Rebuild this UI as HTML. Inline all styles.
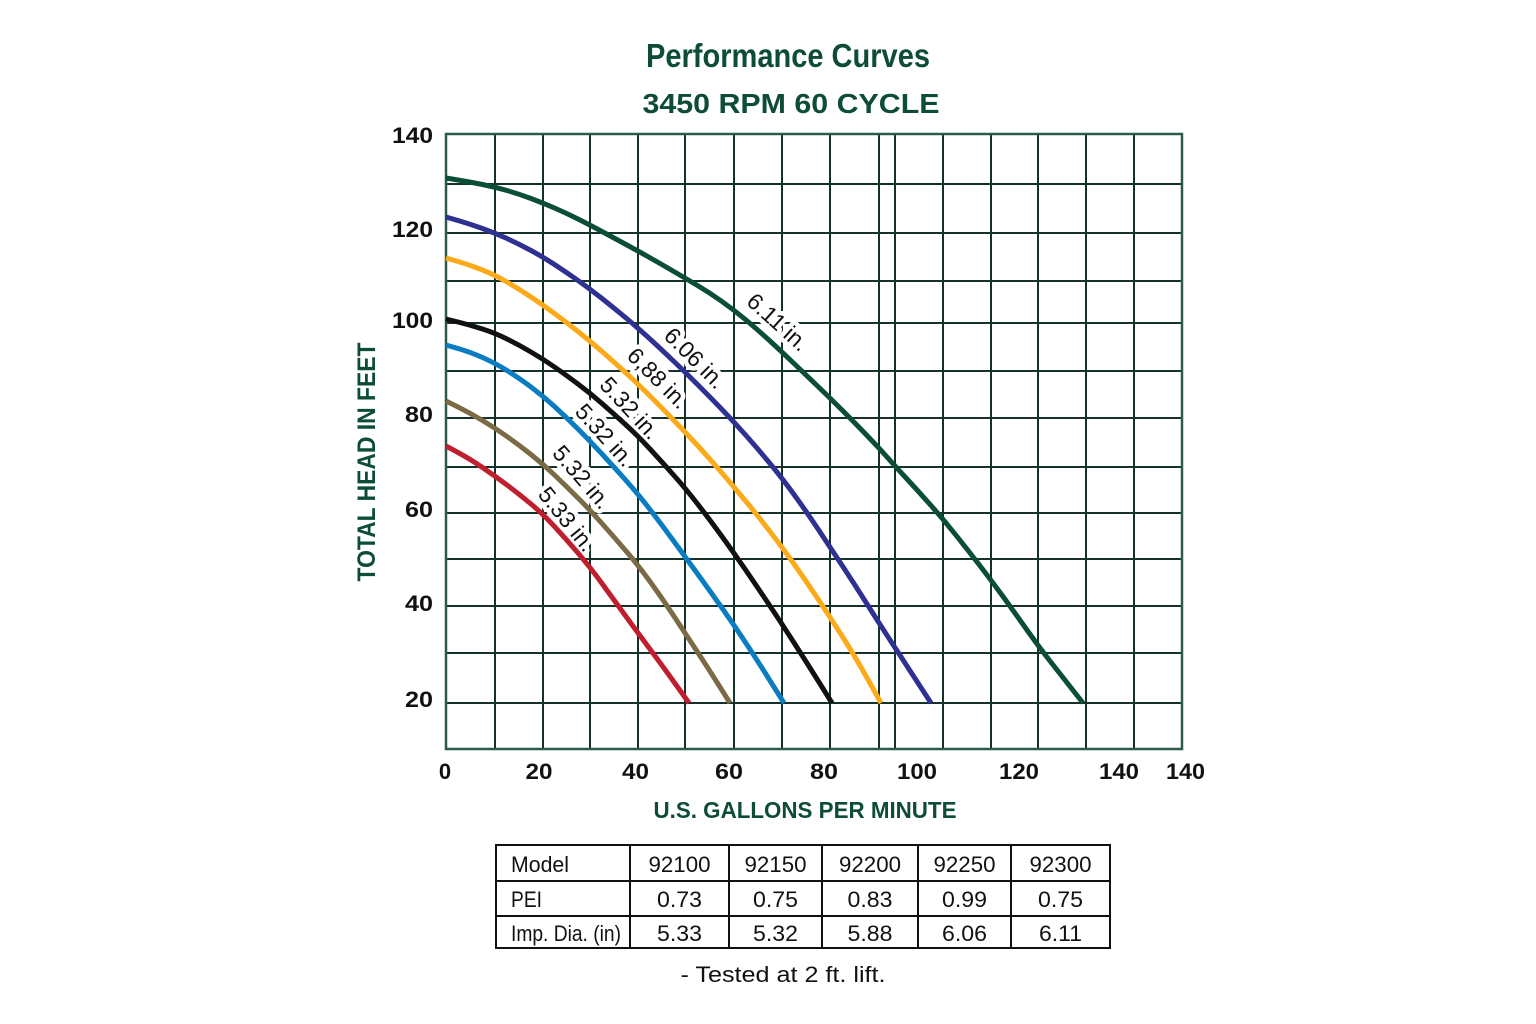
<!DOCTYPE html>
<html>
<head>
<meta charset="utf-8">
<style>
html,body{margin:0;padding:0;background:#fff;}
svg{display:block;}
</style>
</head>
<body>
<svg width="1536" height="1024" viewBox="0 0 1536 1024" xmlns="http://www.w3.org/2000/svg">
<rect width="1536" height="1024" fill="#fff"/>

<!-- Titles -->
<text x="788" y="67" text-anchor="middle" font-family="Liberation Sans, sans-serif" font-weight="bold" font-size="33" fill="#0d4d35" textLength="284" lengthAdjust="spacingAndGlyphs">Performance Curves</text>
<text x="791" y="113" text-anchor="middle" font-family="Liberation Sans, sans-serif" font-weight="bold" font-size="28" fill="#0d4d35" textLength="297" lengthAdjust="spacingAndGlyphs">3450 RPM 60 CYCLE</text>

<!-- Grid -->
<g stroke="#16302a" stroke-width="2" fill="none">
  <line x1="495" y1="134" x2="495" y2="749"/>
  <line x1="543" y1="134" x2="543" y2="749"/>
  <line x1="590" y1="134" x2="590" y2="749"/>
  <line x1="638" y1="134" x2="638" y2="749"/>
  <line x1="685" y1="134" x2="685" y2="749"/>
  <line x1="734" y1="134" x2="734" y2="749"/>
  <line x1="782" y1="134" x2="782" y2="749"/>
  <line x1="830" y1="134" x2="830" y2="749"/>
  <line x1="879" y1="134" x2="879" y2="749"/>
  <line x1="895" y1="134" x2="895" y2="749"/>
  <line x1="943" y1="134" x2="943" y2="749"/>
  <line x1="991" y1="134" x2="991" y2="749"/>
  <line x1="1038" y1="134" x2="1038" y2="749"/>
  <line x1="1086" y1="134" x2="1086" y2="749"/>
  <line x1="1134" y1="134" x2="1134" y2="749"/>

  <line x1="446" y1="184" x2="1182" y2="184"/>
  <line x1="446" y1="233" x2="1182" y2="233"/>
  <line x1="446" y1="281" x2="1182" y2="281"/>
  <line x1="446" y1="323" x2="1182" y2="323"/>
  <line x1="446" y1="371" x2="1182" y2="371"/>
  <line x1="446" y1="418" x2="1182" y2="418"/>
  <line x1="446" y1="467" x2="1182" y2="467"/>
  <line x1="446" y1="513" x2="1182" y2="513"/>
  <line x1="446" y1="559" x2="1182" y2="559"/>
  <line x1="446" y1="606" x2="1182" y2="606"/>
  <line x1="446" y1="653" x2="1182" y2="653"/>
  <line x1="446" y1="703" x2="1182" y2="703"/>
</g>
<rect x="446" y="134" width="736" height="615" fill="none" stroke="#2c5a4a" stroke-width="2.5"/>

<!-- Y tick labels -->
<g font-family="Liberation Sans, sans-serif" font-weight="bold" font-size="22" fill="#111" text-anchor="end">
  <text x="433" y="143" textLength="41" lengthAdjust="spacingAndGlyphs">140</text>
  <text x="433" y="237" textLength="41" lengthAdjust="spacingAndGlyphs">120</text>
  <text x="433" y="328" textLength="41" lengthAdjust="spacingAndGlyphs">100</text>
  <text x="433" y="422" textLength="28" lengthAdjust="spacingAndGlyphs">80</text>
  <text x="433" y="517" textLength="28" lengthAdjust="spacingAndGlyphs">60</text>
  <text x="433" y="611" textLength="28" lengthAdjust="spacingAndGlyphs">40</text>
  <text x="433" y="707" textLength="28" lengthAdjust="spacingAndGlyphs">20</text>
</g>

<!-- X tick labels -->
<g font-family="Liberation Sans, sans-serif" font-weight="bold" font-size="22" fill="#111" text-anchor="middle">
  <text x="445" y="779">0</text>
  <text x="539" y="779" textLength="27" lengthAdjust="spacingAndGlyphs">20</text>
  <text x="635.5" y="779" textLength="27" lengthAdjust="spacingAndGlyphs">40</text>
  <text x="729" y="779" textLength="28" lengthAdjust="spacingAndGlyphs">60</text>
  <text x="824" y="779" textLength="28" lengthAdjust="spacingAndGlyphs">80</text>
  <text x="917" y="779" textLength="40" lengthAdjust="spacingAndGlyphs">100</text>
  <text x="1019" y="779" textLength="40" lengthAdjust="spacingAndGlyphs">120</text>
  <text x="1119" y="779" textLength="40" lengthAdjust="spacingAndGlyphs">140</text>
  <text x="1185.5" y="779" textLength="39" lengthAdjust="spacingAndGlyphs">140</text>
</g>

<!-- Axis titles -->
<text transform="translate(375,462) rotate(-90)" x="0" y="0" text-anchor="middle" font-family="Liberation Sans, sans-serif" font-weight="bold" font-size="25" fill="#0d4d35" textLength="239" lengthAdjust="spacingAndGlyphs">TOTAL HEAD IN FEET</text>
<text x="805" y="818" text-anchor="middle" font-family="Liberation Sans, sans-serif" font-weight="bold" font-size="23" fill="#0d4d35" textLength="303" lengthAdjust="spacingAndGlyphs">U.S. GALLONS PER MINUTE</text>

<!-- Curve labels (knockout) -->
<g font-family="Liberation Sans, sans-serif" font-size="23" fill="#111" text-anchor="middle" stroke="#fff" stroke-width="9" stroke-linejoin="round" paint-order="stroke">
  <text transform="translate(778,322) rotate(42)" dy="8">6.11 in.</text>
  <text transform="translate(695,358) rotate(45)" dy="8">6.06 in.</text>
  <text transform="translate(658,378) rotate(45)" dy="8">6,88 in.</text>
  <text transform="translate(630,408) rotate(47)" dy="8">5.32 in.</text>
  <text transform="translate(605,435) rotate(48)" dy="8">5.32 in.</text>
  <text transform="translate(582,477) rotate(49)" dy="8">5.32 in.</text>
  <text transform="translate(567,519) rotate(51)" dy="8">5.33 in.</text>
</g>

<!-- Curves -->
<g fill="none" stroke-width="5" stroke-linejoin="round" stroke-linecap="butt">
  <path stroke="#0b4e37" d="M446,178 L458,180 Q470,182 482.5,184.5 Q495,187 507,190.5 Q519,194 531,198.5 Q543,203 554.5,208 Q566,213 578,219 Q590,225 602,231.5 Q614,238 626,244.5 Q638,251 649.5,257.5 Q661,264 673,271 Q685,278 697.5,285.5 Q710,293 722,301.5 Q734,310 746,320 Q758,330 770,341 Q782,352 794,363.5 Q806,375 818,386.5 Q830,398 842.5,410.5 Q855,423 867,435.5 Q879,448 887,457 Q895,466 907,479 Q919,492 931,505.5 Q943,519 955,534 Q967,549 979,564.5 Q991,580 1003,596.5 Q1015,613 1027,630 Q1039,647 1050,661 Q1061,675 1072,689 L1083,703"/>
  <path stroke="#2e3192" d="M446,217 L458,220.5 Q470,224 482.5,228.5 Q495,233 507,238.5 Q519,244 531,250.5 Q543,257 554.5,264.5 Q566,272 578,280.5 Q590,289 602,298.5 Q614,308 626,318 Q638,328 650,339 Q662,350 674,361.5 Q686,373 698,385 Q710,397 722,409.5 Q734,422 746,435.5 Q758,449 770,463.5 Q782,478 794,494.5 Q806,511 818,529 Q830,547 842.5,566 Q855,585 867,604 Q879,623 892,643 Q905,663 918,683 L931,703"/>
  <path stroke="#fbaa19" d="M446,258 L458,261.5 Q470,265 482.5,270 Q495,275 507,282 Q519,289 531,297 Q543,305 554.5,313.5 Q566,322 578,331.5 Q590,341 602,351.5 Q614,362 626,373 Q638,384 650,396 Q662,408 674,420.5 Q686,433 698,446 Q710,459 722,473 Q734,487 746,501.5 Q758,516 770,531.5 Q782,547 794,564 Q806,581 818,599 Q830,617 843,637.5 Q856,658 868.5,680.5 L881,703"/>
  <path stroke="#111111" d="M446,319 L458,322 Q470,325 482.5,329 Q495,333 507,339 Q519,345 531,352 Q543,359 554.5,367 Q566,375 578,384 Q590,393 602,403.5 Q614,414 626,425 Q638,436 650,449 Q662,462 674,475.5 Q686,489 698,504.5 Q710,520 722,536.5 Q734,553 746,570.5 Q758,588 770,606 Q782,624 794.5,643.5 Q807,663 819.5,683 L832,703"/>
  <path stroke="#0a7cc1" d="M446,345 L458,348.5 Q470,352 482.5,357.5 Q495,363 507,370.5 Q519,378 531,387 Q543,396 554.5,406.5 Q566,417 578,429 Q590,441 602,454 Q614,467 626,480.5 Q638,494 650,509.5 Q662,525 674,541.5 Q686,558 698,574.5 Q710,591 722,608 Q734,625 746.5,644 Q759,663 771.5,683 L784,703"/>
  <path stroke="#7a6a45" d="M446,401 L458,407 Q470,413 482.5,420.5 Q495,428 507,436.5 Q519,445 531,454.5 Q543,464 554.5,475 Q566,486 578,498 Q590,510 602,523.5 Q614,537 626,551 Q638,565 650,581.5 Q662,598 673.5,615.5 Q685,633 696.5,650.5 Q708,668 719,685.5 L730,703"/>
  <path stroke="#be1e2d" d="M446,446 L458,452.5 Q470,459 482.5,467.5 Q495,476 507,485 Q519,494 531,504 Q543,514 554.5,526.5 Q566,539 578,553 Q590,567 602,583.5 Q614,600 626,616.5 Q638,633 651,650.5 Q664,668 676.5,685.5 L689,703"/>
</g>

<!-- Table -->
<g stroke="#111" stroke-width="2" fill="none">
  <rect x="496" y="845" width="614" height="103"/>
  <line x1="496" y1="881" x2="1110" y2="881"/>
  <line x1="496" y1="916" x2="1110" y2="916"/>
  <line x1="630" y1="845" x2="630" y2="948"/>
  <line x1="729" y1="845" x2="729" y2="948"/>
  <line x1="822" y1="845" x2="822" y2="948"/>
  <line x1="918" y1="845" x2="918" y2="948"/>
  <line x1="1011" y1="845" x2="1011" y2="948"/>
</g>
<g font-family="Liberation Sans, sans-serif" font-size="22" fill="#111">
  <text x="511" y="872" textLength="58" lengthAdjust="spacingAndGlyphs">Model</text>
  <text x="511" y="907" textLength="31" lengthAdjust="spacingAndGlyphs">PEI</text>
  <text x="511" y="941" textLength="110" lengthAdjust="spacingAndGlyphs">Imp. Dia. (in)</text>
</g>
<g font-family="Liberation Sans, sans-serif" font-size="22" fill="#111" text-anchor="middle">
  <text x="679.5" y="872" textLength="62" lengthAdjust="spacingAndGlyphs">92100</text>
  <text x="775.5" y="872" textLength="62" lengthAdjust="spacingAndGlyphs">92150</text>
  <text x="870" y="872" textLength="62" lengthAdjust="spacingAndGlyphs">92200</text>
  <text x="964.5" y="872" textLength="62" lengthAdjust="spacingAndGlyphs">92250</text>
  <text x="1060.5" y="872" textLength="62" lengthAdjust="spacingAndGlyphs">92300</text>

  <text x="679.5" y="907" textLength="45" lengthAdjust="spacingAndGlyphs">0.73</text>
  <text x="775.5" y="907" textLength="45" lengthAdjust="spacingAndGlyphs">0.75</text>
  <text x="870" y="907" textLength="45" lengthAdjust="spacingAndGlyphs">0.83</text>
  <text x="964.5" y="907" textLength="45" lengthAdjust="spacingAndGlyphs">0.99</text>
  <text x="1060.5" y="907" textLength="45" lengthAdjust="spacingAndGlyphs">0.75</text>

  <text x="679.5" y="941" textLength="45" lengthAdjust="spacingAndGlyphs">5.33</text>
  <text x="775.5" y="941" textLength="45" lengthAdjust="spacingAndGlyphs">5.32</text>
  <text x="870" y="941" textLength="45" lengthAdjust="spacingAndGlyphs">5.88</text>
  <text x="964.5" y="941" textLength="45" lengthAdjust="spacingAndGlyphs">6.06</text>
  <text x="1060.5" y="941" textLength="43" lengthAdjust="spacingAndGlyphs">6.11</text>
</g>
<text x="783" y="982" text-anchor="middle" font-family="Liberation Sans, sans-serif" font-size="22" fill="#111" textLength="205" lengthAdjust="spacingAndGlyphs">- Tested at 2 ft. lift.</text>
</svg>
</body>
</html>
